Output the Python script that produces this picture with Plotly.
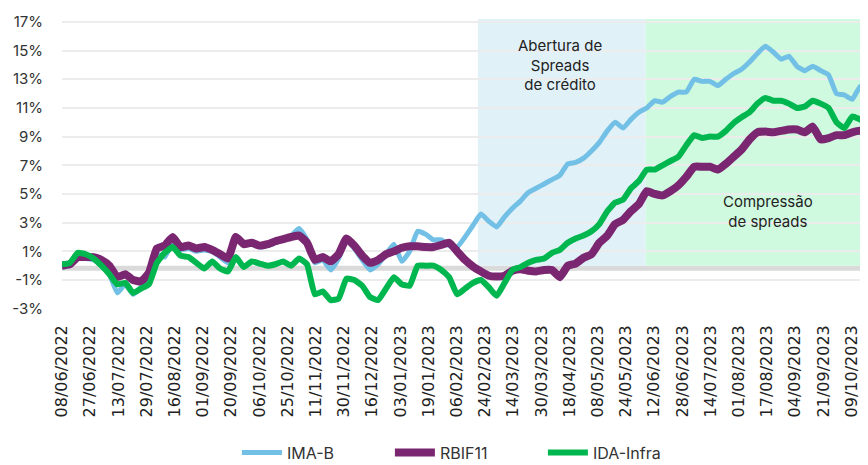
import plotly.graph_objects as go

# ---- data (values in %, samples evenly spaced, ~3.36 trading days apart) ----
step = 3.363
tick_labels = ["08/06/2022", "27/06/2022", "13/07/2022", "29/07/2022", "16/08/2022",
               "01/09/2022", "20/09/2022", "06/10/2022", "25/10/2022", "11/11/2022",
               "30/11/2022", "16/12/2022", "03/01/2023", "19/01/2023", "06/02/2023",
               "24/02/2023", "14/03/2023", "30/03/2023", "18/04/2023", "08/05/2023",
               "24/05/2023", "12/06/2023", "28/06/2023", "14/07/2023", "01/08/2023",
               "17/08/2023", "04/09/2023", "21/09/2023", "09/10/2023"]
tick_every = 12  # trading days between labels

ima_b = [-0.1, 0.0, 0.5, 0.5, 0.4, 0.1, -0.6, -1.9, -1.3, -2.0,
         -1.5, -0.9, 0.8, 0.6, 1.6, 1.1, 1.2, 1.0, 1.1, 1.0,
         0.6, 0.2, 1.9, 1.5, 1.5, 1.3, 1.4, 1.6, 1.8, 2.1,
         2.6, 1.8, 0.2, 0.4, -0.3, 0.5, 1.8, 1.2, 0.4, -0.3,
         0.1, 0.8, 1.5, 0.3, 1.0, 2.4, 2.2, 1.8, 1.8, 1.4,
         1.3, 2.0, 2.8, 3.6, 3.1, 2.7, 3.4, 4.0, 4.5, 5.1,
         5.4, 5.7, 6.0, 6.3, 7.1, 7.2, 7.5, 8.0, 8.6, 9.4,
         10.0, 9.6, 10.2, 10.7, 11.0, 11.5, 11.4, 11.8, 12.1, 12.1,
         13.0, 12.85, 12.85, 12.55, 13.0, 13.4, 13.7, 14.2, 14.8, 15.3,
         14.9, 14.4, 14.6, 13.9, 13.6, 13.9, 13.6, 13.3, 12.0, 11.9,
         11.6, 12.5, 12.4]

rbif11 = [0.0, 0.1, 0.6, 0.6, 0.6, 0.4, 0.0, -0.8, -0.6, -1.0,
          -1.1, -0.5, 1.2, 1.4, 2.0, 1.3, 1.4, 1.2, 1.3, 1.1,
          0.8, 0.5, 2.0, 1.5, 1.6, 1.4, 1.5, 1.7, 1.85, 2.0,
          2.1, 1.6, 0.4, 0.6, 0.3, 0.8, 1.9, 1.4, 0.7, 0.2,
          0.4, 0.8, 1.0, 1.25, 1.35, 1.35, 1.3, 1.3, 1.45, 1.6,
          1.0, 0.4, -0.05, -0.4, -0.7, -0.75, -0.7, -0.35, -0.25, -0.35,
          -0.4, -0.3, -0.3, -0.8, 0.0, 0.15, 0.55, 0.8, 1.6, 2.1,
          2.9, 3.2, 3.8, 4.3, 5.2, 5.0, 4.9, 5.2, 5.6, 6.2,
          6.9, 6.9, 6.9, 6.7, 7.1, 7.6, 8.1, 8.8, 9.3, 9.35,
          9.3, 9.4, 9.5, 9.5, 9.3, 9.7, 8.8, 8.9, 9.1, 9.1,
          9.3, 9.4, 9.25]

ida_infra = [0.1, 0.2, 0.9, 0.8, 0.5, 0.0, -0.6, -1.3, -1.2, -1.9,
             -1.6, -1.3, 0.2, 0.9, 1.3, 0.7, 0.6, 0.2, -0.2, 0.3,
             -0.2, -0.4, 0.6, -0.1, 0.3, 0.15, 0.0, 0.1, 0.3, 0.0,
             0.5, 0.1, -2.0, -1.8, -2.4, -2.3, -0.9, -1.0, -1.4, -2.2,
             -2.4, -1.6, -0.8, -1.3, -1.4, 0.0, 0.0, 0.0, -0.3, -0.8,
             -2.0, -1.6, -1.2, -1.0, -1.5, -2.1, -1.2, -0.3, -0.1, 0.2,
             0.4, 0.5, 0.9, 1.1, 1.6, 1.9, 2.1, 2.4, 2.9, 3.8,
             4.4, 4.6, 5.4, 5.9, 6.7, 6.7, 7.0, 7.3, 7.6, 8.4,
             9.1, 8.9, 9.0, 9.0, 9.4, 9.95, 10.35, 10.7, 11.3, 11.7,
             11.5, 11.5, 11.3, 11.0, 11.1, 11.5, 11.3, 11.0, 10.0, 9.6,
             10.4, 10.2, 9.9]

y_ticks = [-3, -1, 1, 3, 5, 7, 9, 11, 13, 15, 17]

# phases (trading-day index)
phase_open = (177, 248.4)
phase_comp = (248.4, 343)

x_idx = [i * step for i in range(len(ima_b))]
tickvals = [i * tick_every for i in range(len(tick_labels))]
x_max = 343

fig = go.Figure()
series = [("IMA-B", ima_b, "#72c0e6", 5),
          ("RBIF11", rbif11, "#7b2671", 8),
          ("IDA-Infra", ida_infra, "#00b74f", 6)]
for name, vals, color, w in series:
    fig.add_trace(go.Scatter(x=x_idx, y=vals, name=name, mode="lines",
                             line=dict(color=color, width=w, shape="spline", smoothing=0.4)))

fig.add_shape(type="rect", xref="x", yref="y", x0=phase_open[0], x1=phase_open[1],
              y0=0, y1=17.2, fillcolor="#e1f1f8", line_width=0, layer="below")
fig.add_shape(type="rect", xref="x", yref="y", x0=phase_comp[0], x1=phase_comp[1],
              y0=0, y1=17.2, fillcolor="#cffadf", line_width=0, layer="below")
# zero band
fig.add_shape(type="rect", xref="paper", yref="y", x0=0, x1=1, y0=-0.36, y1=0,
              fillcolor="#dadada", line_width=0, layer="below")

fig.add_annotation(x=211.8, y=14.0, xref="x", yref="y", showarrow=False,
                   text="Abertura de<br>Spreads<br>de crédito",
                   font=dict(family="Inter, DejaVu Sans", size=15, color="#222"))
fig.add_annotation(x=300.3, y=3.75, xref="x", yref="y", showarrow=False,
                   text="Compressão<br>de spreads",
                   font=dict(family="Inter, DejaVu Sans", size=15, color="#222"))

fig.update_layout(
    width=860, height=457,
    margin=dict(l=54, r=0, t=11, b=156, autoexpand=False),
    plot_bgcolor="white", paper_bgcolor="white",
    showlegend=True,
    legend=dict(orientation="h", x=0.217, xanchor="left", y=-0.495, yanchor="middle",
                font=dict(family="Inter, DejaVu Sans", size=16, color="#333"),
                entrywidth=98, itemwidth=40, tracegroupgap=0),
    xaxis=dict(range=[0, x_max], tickmode="array", tickvals=tickvals, ticktext=tick_labels,
               tickangle=-90, showgrid=False, zeroline=False, showline=False,
               ticklabelstandoff=12, automargin=False,
               tickfont=dict(family="DejaVu Sans", size=16, color="#222")),
    yaxis=dict(range=[-3.02, 17.2], tickmode="array", tickvals=y_ticks,
               ticktext=[f"{v}%" for v in y_ticks], showgrid=True, gridcolor="#ececec",
               gridwidth=2, zeroline=False, showline=False, ticklabelstandoff=18,
               automargin=False,
               tickfont=dict(family="Inter, DejaVu Sans", size=15, color="#333")),
)

fig.write_html("out.html")
